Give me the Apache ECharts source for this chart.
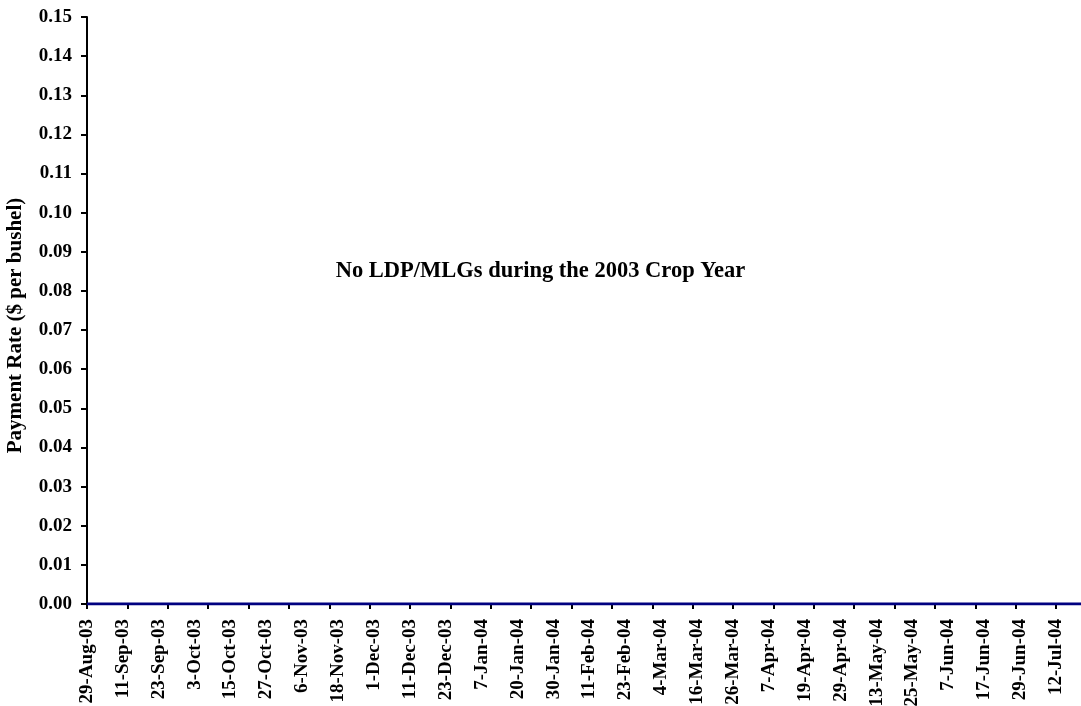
<!DOCTYPE html>
<html>
<head>
<meta charset="utf-8">
<script src="https://cdn.jsdelivr.net/npm/echarts@6/dist/echarts.min.js"></script>
<style>
  html, body { margin: 0; padding: 0; background: #fff; }
  #main { width: 1081px; height: 706px; }
</style>
</head>
<body>
<div id="main"></div>
<script>
// dates shown on the x axis (every 8th trading day), last one is just past the edge
var dateLabels = ['29-Aug-03', '11-Sep-03', '23-Sep-03', '3-Oct-03', '15-Oct-03', '27-Oct-03',
  '6-Nov-03', '18-Nov-03', '1-Dec-03', '11-Dec-03', '23-Dec-03', '7-Jan-04', '20-Jan-04',
  '30-Jan-04', '11-Feb-04', '23-Feb-04', '4-Mar-04', '16-Mar-04', '26-Mar-04', '7-Apr-04',
  '19-Apr-04', '29-Apr-04', '13-May-04', '25-May-04', '7-Jun-04', '17-Jun-04', '29-Jun-04',
  '12-Jul-04', '22-Jul-04'];
// payment rate, $ per bushel - no LDP/MLGs that year
var paymentRate = [0, 0, 0, 0, 0, 0, 0, 0, 0, 0, 0, 0, 0, 0, 0, 0, 0, 0, 0, 0,
  0, 0, 0, 0, 0, 0, 0, 0, 0];
var yTicks = { min: 0, max: 0.15, step: 0.01 };

var FONT = '"Liberation Serif", "Times New Roman", serif';

var chart = echarts.init(document.getElementById('main'));
chart.setOption({
  animation: false,
  grid: { left: 87, right: -11, top: 17, bottom: 102, outerBoundsMode: 'none', containLabel: false },
  xAxis: [{
    type: 'category',
    data: dateLabels,
    boundaryGap: false,
    axisLine: { lineStyle: { color: '#000', width: 2 } },
    axisTick: { show: false },
    axisLabel: {
      interval: 0,
      rotate: 90,
      margin: 15,
      color: '#000',
      fontFamily: FONT,
      fontWeight: 'bold',
      fontSize: 19
    },
    splitLine: { show: false }
  }, {
    // tick marks sit every 9 trading days, labels every 8
    type: 'value',
    position: 'bottom',
    min: 0,
    max: dateLabels.length - 1,
    interval: 1.125,
    axisLine: { show: false },
    axisTick: { show: true, length: 5, lineStyle: { color: '#000', width: 2 } },
    axisLabel: { show: false },
    splitLine: { show: false }
  }],
  yAxis: {
    type: 'value',
    min: yTicks.min,
    max: yTicks.max,
    interval: yTicks.step,
    name: 'Payment Rate ($ per bushel)',
    nameLocation: 'middle',
    nameGap: 61,
    nameTextStyle: {
      color: '#000',
      fontFamily: FONT,
      fontWeight: 'bold',
      fontSize: 21,
      padding: [0, 30, 0, 0]
    },
    axisLine: { show: true, lineStyle: { color: '#000', width: 2 } },
    axisTick: { show: true, length: 6, lineStyle: { color: '#000', width: 2 } },
    axisLabel: {
      margin: 15,
      color: '#000',
      fontFamily: FONT,
      fontWeight: 'bold',
      fontSize: 19,
      formatter: function (v) { return v.toFixed(2); }
    },
    splitLine: { show: false }
  },
  graphic: [{
    type: 'text',
    left: 'center',
    top: 260,
    style: {
      text: 'No LDP/MLGs during the 2003 Crop Year',
      fill: '#000',
      font: 'bold 22.5px ' + FONT
    }
  }],
  series: [{
    name: 'Payment Rate',
    type: 'line',
    xAxisIndex: 0,
    data: paymentRate,
    showSymbol: false,
    lineStyle: { color: '#000080', width: 3 },
    z: 5
  }]
});
</script>
</body>
</html>
